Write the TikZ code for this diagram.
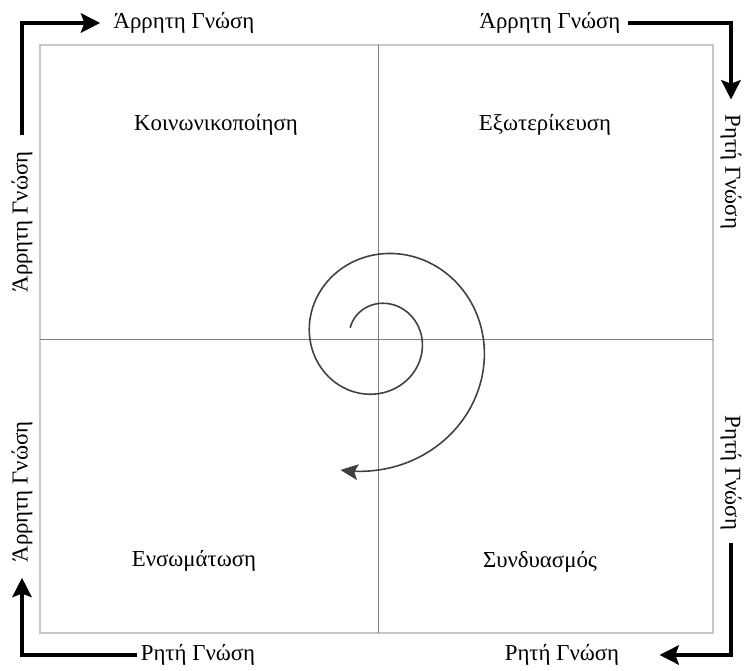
\documentclass[tikz,border=0pt]{standalone}
\usepackage{fontspec}
\setmainfont{Liberation Serif}
\usetikzlibrary{arrows.meta}

\begin{document}
\begin{tikzpicture}[x=0.02cm,y=0.02cm,>={Stealth[length=11pt,width=11pt,inset=2pt]},
    lbl/.style={inner sep=0pt,font=\fontsize{13}{15}\selectfont},
    flow/.style={->,line width=2pt}]
      \useasboundingbox (0,0) rectangle (744,671);
      % the four quadrants
        \draw[black!22,line width=.7pt](40,38) rectangle (713,626);
        \draw[black!50,line width=.5pt](378,38) -- (378,626);
        \draw[black!50,line width=.5pt](40,332) -- (713,332);
        \node[lbl] (soc) at (216,546) {Κοινωνικοποίηση};
        \node[lbl] (ext) at (545,546) {Εξωτερίκευση};
        \node[lbl] (int) at (194,110) {Ενσωμάτωση};
        \node[lbl] (com) at (540,109) {Συνδυασμός};
      % the spiral
        \draw[black!75,line width=.9pt,->,>={Stealth[length=10pt,width=9pt,inset=2pt]}]
            plot[domain=158:-466,samples=200,smooth]
            ({378+44*exp(-0.00243*\x)*cos(\x)},{332+44*exp(-0.00243*\x)*sin(\x)});
      % labels round the frame
        \node[lbl] (tl) at (184,648) {Άρρητη Γνώση};
        \node[lbl] (tr) at (550,648) {Άρρητη Γνώση};
        \node[lbl,rotate=90] (lt) at (22,449) {Άρρητη Γνώση};
        \node[lbl,rotate=90] (lb) at (22,179) {Άρρητη Γνώση};
        \node[lbl,rotate=-90] (rt) at (731,499) {Ρητή Γνώση};
        \node[lbl,rotate=-90] (rb) at (731,198) {Ρητή Γνώση};
        \node[lbl] (bl) at (198,16) {Ρητή Γνώση};
        \node[lbl] (br) at (562,16) {Ρητή Γνώση};
      % corner arrows
        \draw[flow,shorten <=.32cm,shorten >=.26cm] (lt.east) |- (tl.west);
        \draw[flow,shorten <=.14cm,shorten >=.3cm] (tr.east) -| (rt.west);
        \draw[flow,shorten <=.26cm,shorten >=.8cm] (rb.east) |- (br.east);
        \draw[flow,shorten <=.06cm,shorten >=.3cm] (bl.west) -| (lb.west);
\end{tikzpicture}
\end{document}
